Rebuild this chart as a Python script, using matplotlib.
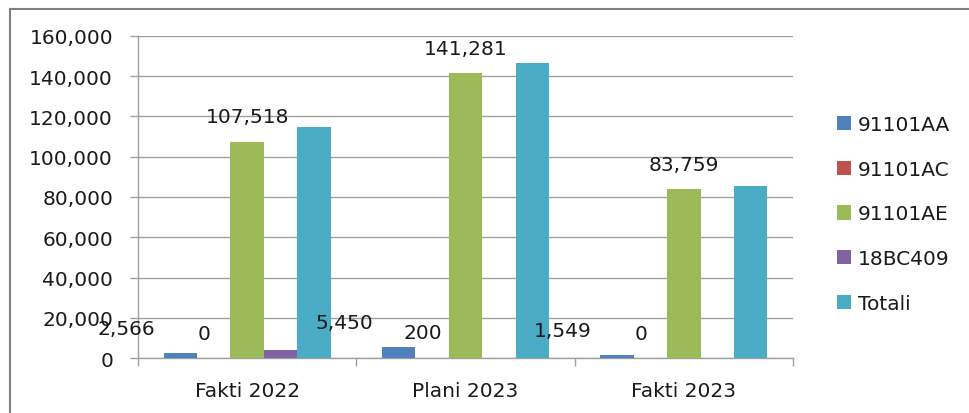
import matplotlib
matplotlib.use("Agg")
import matplotlib.pyplot as plt
from matplotlib.lines import Line2D
import numpy as np

categories = ["Fakti 2022", "Plani 2023", "Fakti 2023"]
series_names = ["91101AA", "91101AC", "91101AE", "18BC409", "Totali"]
v_91101AA = [2566, 5450, 1549]
v_91101AC = [0, 200, 0]
v_91101AE = [107518, 141281, 83759]
v_18BC409 = [4300, 0, 0]
v_totali = [114700, 146700, 85250]
labels_91101AA = ["2,566", "5,450", "1,549"]
labels_91101AC = ["0", "200", "0"]
labels_91101AE = ["107,518", "141,281", "83,759"]
yticks = [0, 20000, 40000, 60000, 80000, 100000, 120000, 140000, 160000]

colors = ["#4F81BD", "#C0504D", "#9BBB59", "#8064A2", "#4BACC6"]
series = [v_91101AA, v_91101AC, v_91101AE, v_18BC409, v_totali]

plt.rcParams['font.family'] = ['DejaVu Sans']
FS = 14.5
TXT = "#1a1a1a"
GRID = "#a0a0a0"

W, H = 969, 414
fig = plt.figure(figsize=(W / 100, H / 100), dpi=100)
ax = fig.add_axes([138 / W, 1 - 359.3 / H, (793 - 138) / W, (359.3 - 36.7) / H])

x = np.arange(len(categories))
bw = 0.153
bars = []
for i, (vals, c, name) in enumerate(zip(series, colors, series_names)):
    b = ax.bar(x + (i - 2) * bw, vals, bw, color=c, label=name, zorder=3, linewidth=0)
    bars.append(b)

# data labels
def add_labels(barc, labels, dx):
    for rect, lab in zip(barc, labels):
        ax.annotate(lab, (rect.get_x() + rect.get_width() / 2, rect.get_height()),
                    xytext=(dx, 18), textcoords="offset points",
                    ha="center", va="center", fontsize=FS, color=TXT, zorder=5)

add_labels(bars[0], labels_91101AA, -39)
add_labels(bars[1], labels_91101AC, -7)
add_labels(bars[2], labels_91101AE, 0)

ax.set_xlim(-0.5, 2.5)
ax.set_ylim(0, 160000)
ax.set_yticks(yticks)
ax.set_yticklabels([f"{v:,}" for v in yticks])
ax.yaxis.grid(True, color=GRID, linewidth=1.0, zorder=0)
ax.set_axisbelow(True)

ax.set_xticks([-0.5, 0.5, 1.5, 2.5])
ax.set_xticklabels([])
ax.set_xticks(x, minor=True)
ax.set_xticklabels(categories, minor=True)
ax.tick_params(axis="x", which="major", length=6, width=1.0, color=GRID, direction="out")
ax.tick_params(axis="x", which="minor", length=0, pad=16, labelsize=FS, labelcolor=TXT)
ax.tick_params(axis="y", length=6, width=1.0, color=GRID, direction="out", pad=12,
               labelsize=FS, labelcolor=TXT)

for s in ["top", "right"]:
    ax.spines[s].set_visible(False)
for s in ["left", "bottom"]:
    ax.spines[s].set_color(GRID)
    ax.spines[s].set_linewidth(1.0)

leg = fig.legend(loc="center left", bbox_to_anchor=(837 / W, 1 - 215 / H),
                 frameon=False, fontsize=FS, handlelength=0.7, handleheight=0.7,
                 handletextpad=0.35, labelspacing=1.27, borderpad=0, borderaxespad=0,
                 labelcolor=TXT)

# outer chart border (top and left visible)
fig.add_artist(Line2D([9.5 / W, 1.0], [1 - 9.5 / H, 1 - 9.5 / H], color="#808080",
                      linewidth=1.5, transform=fig.transFigure))
fig.add_artist(Line2D([9.5 / W, 9.5 / W], [1 - 9.5 / H, 0], color="#808080",
                      linewidth=1.5, transform=fig.transFigure))

fig.savefig("out.png", dpi=100)
